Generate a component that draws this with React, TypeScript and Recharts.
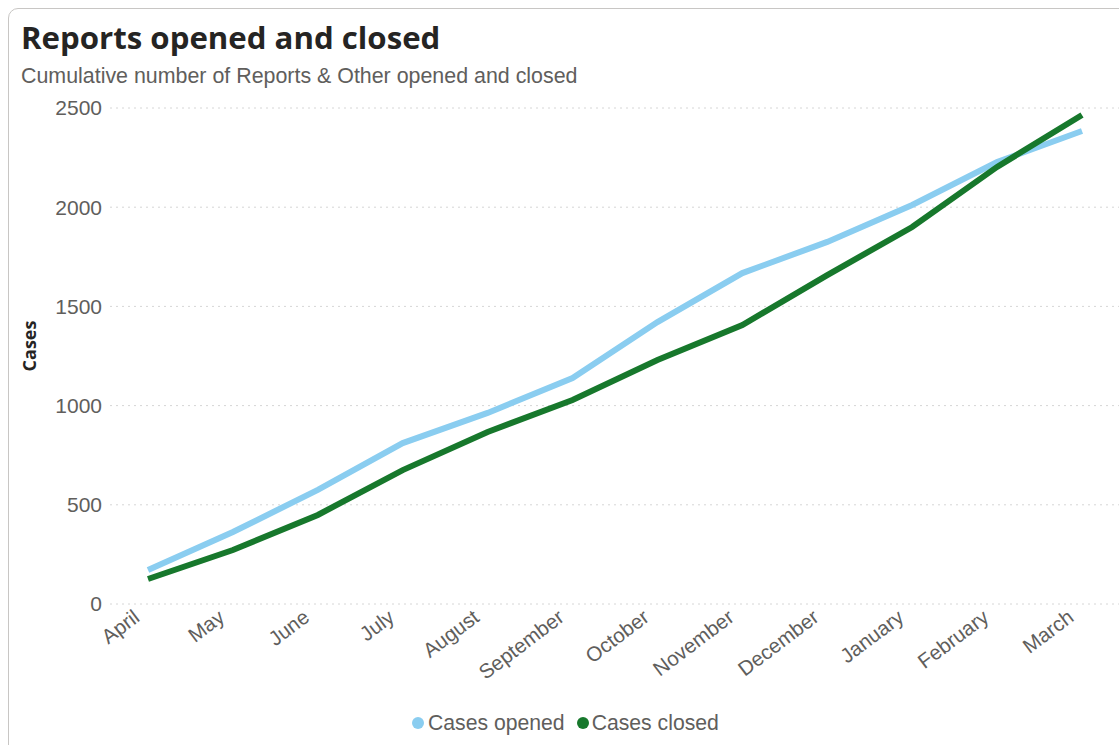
import React from 'react';
import { LineChart, Line, XAxis, YAxis, CartesianGrid } from 'recharts';

const months = ['April', 'May', 'June', 'July', 'August', 'September', 'October', 'November', 'December', 'January', 'February', 'March'];
const casesOpened = [171, 363, 575, 811, 963, 1139, 1421, 1668, 1825, 2011, 2228, 2384];
const casesClosed = [126, 272, 449, 675, 867, 1028, 1230, 1406, 1658, 1900, 2203, 2465];
const yTicks = [0, 500, 1000, 1500, 2000, 2500];
const seriesNames = ['Cases opened', 'Cases closed'];

const OPENED_COLOR = '#8ACDF0';
const CLOSED_COLOR = '#17782C';
const FONT = '"Liberation Sans", Arial, sans-serif';

const data = months.map((m, i) => ({ month: m, opened: casesOpened[i], closed: casesClosed[i] }));

const MonthTick = (props: any) => {
  const { x, y, payload } = props;
  const px = x - 7;
  const py = y + 8;
  return (
    <text x={px} y={py} textAnchor="end" fill="#605E5C" fontSize={20.5} fontFamily={FONT} transform={`rotate(-37, ${px}, ${py})`}>
      {payload.value}
    </text>
  );
};

const CasesLabel = (props: any) => {
  const vb = props.viewBox || { x: 0, y: 0, width: 0, height: 0 };
  const cx = vb.x + 29;
  const cy = vb.y + vb.height / 2 - 10;
  return (
    <text x={cx} y={cy} textAnchor="middle" dominantBaseline="central" fill="#252423" fontWeight={700} fontSize={18} fontFamily='"Open Sans", sans-serif' transform={`rotate(-90, ${cx}, ${cy})`}>
      Cases
    </text>
  );
};

export default function App() {
  return (
    <div style={{ position: 'relative', width: 1119, height: 745, overflow: 'hidden', background: '#fff' }}>
      <style>{`body{margin:0;overflow:hidden;}`}</style>
      <div style={{ position: 'absolute', left: 8, top: 8, width: 1130, height: 760, border: '1px solid #c8c6c4', borderRadius: 10, boxSizing: 'border-box' }} />
      <div style={{ position: 'absolute', left: 21, top: 16, fontFamily: '"Open Sans", sans-serif', fontWeight: 700, fontSize: 31.2, color: '#252423', whiteSpace: 'nowrap' }}>
        Reports opened and closed
      </div>
      <div style={{ position: 'absolute', left: 21, top: 64, fontFamily: FONT, fontSize: 21.4, color: '#605E5C', whiteSpace: 'nowrap' }}>
        Cumulative number of Reports &amp; Other opened and closed
      </div>
      <div style={{ position: 'absolute', left: 0, top: 0 }}>
        <LineChart width={1119} height={745} data={data} margin={{ top: 108, right: 0, bottom: 0, left: 0 }}>
          <CartesianGrid vertical={false} stroke="#d6d6d6" strokeDasharray="2 4" />
          <XAxis
            dataKey="month"
            axisLine={false}
            tickLine={false}
            interval={0}
            padding={{ left: 38, right: 37 }}
            height={141}
            tick={<MonthTick />}
          />
          <YAxis
            domain={[0, 2500]}
            ticks={yTicks}
            axisLine={false}
            tickLine={false}
            width={110}
            tickMargin={2}
            tick={{ fill: '#605E5C', fontSize: 21, fontFamily: FONT }}
            label={<CasesLabel />}
          />
          <Line type="linear" dataKey="opened" name={seriesNames[0]} stroke={OPENED_COLOR} strokeWidth={6} dot={false} isAnimationActive={false} />
          <Line type="linear" dataKey="closed" name={seriesNames[1]} stroke={CLOSED_COLOR} strokeWidth={6} dot={false} isAnimationActive={false} />
        </LineChart>
      </div>
      <div style={{ position: 'absolute', left: 412, top: 711, display: 'flex', alignItems: 'center', fontFamily: FONT, fontSize: 21.2, color: '#605E5C', whiteSpace: 'nowrap' }}>
        <span style={{ width: 12, height: 12, borderRadius: 6, background: OPENED_COLOR, display: 'inline-block', marginRight: 4 }} />
        <span style={{ marginRight: 12 }}>{seriesNames[0]}</span>
        <span style={{ width: 12, height: 12, borderRadius: 6, background: CLOSED_COLOR, display: 'inline-block', marginRight: 3 }} />
        <span>{seriesNames[1]}</span>
      </div>
    </div>
  );
}
